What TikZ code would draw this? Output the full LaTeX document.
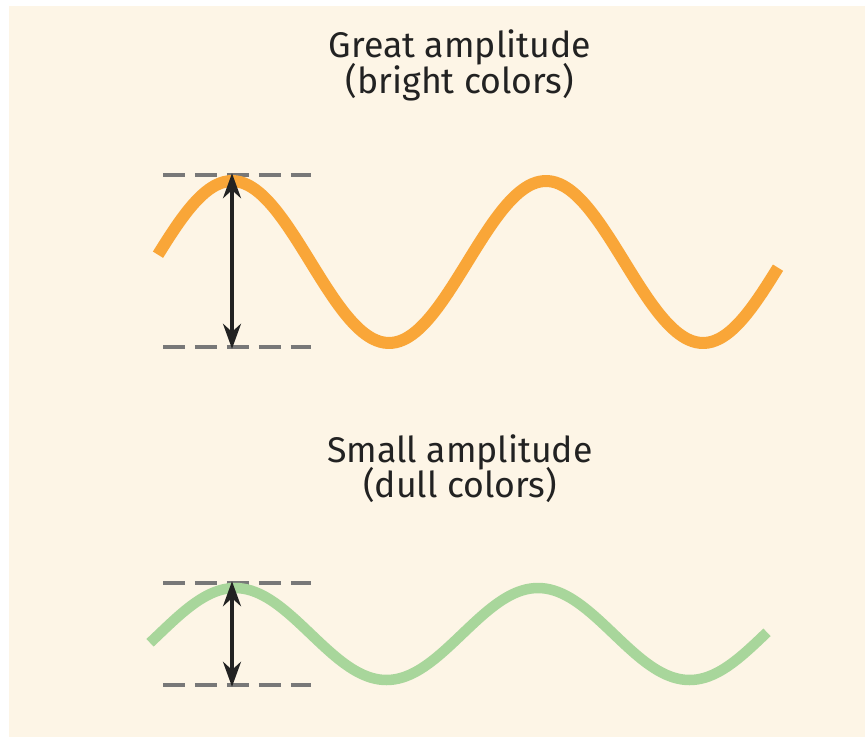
\documentclass[tikz,border=0pt]{standalone}
\usepackage{fontspec}
\setmainfont{Fira Sans}
\usepackage{tikz}
\usetikzlibrary{arrows.meta}

\definecolor{paper}{RGB}{253,245,230}
\definecolor{waveorange}{RGB}{249,166,56}
\definecolor{wavegreen}{RGB}{168,214,155}
\definecolor{guidegray}{RGB}{120,120,120}
\definecolor{inkdark}{RGB}{34,34,34}

\begin{document}
\begin{tikzpicture}[x=0.02cm, y=-0.02cm,
    caption/.style={anchor=base, font=\fontsize{20.3}{22}\selectfont, text=inkdark},
    guide/.style={guidegray, line width=0.08cm, dash pattern=on 0.44cm off 0.2cm},
    span/.style={{Stealth[length=0.5cm, width=0.36cm]}-{Stealth[length=0.5cm, width=0.36cm]},
                 inkdark, line width=0.07cm, shorten <=-1pt, shorten >=-1pt}]
  % Frame
  \useasboundingbox (0,0) rectangle (865,737);
  \fill[paper] (9,6) rectangle (865,737);

  % === Great amplitude ===
  \node[caption] (greattitle) at (460,57) {Great amplitude};
  \node[caption] (brighttitle) at (460,93) {(bright colors)};

  \draw[guide] (163,175) -- (311,175);
  \draw[guide] (163,347) -- (311,347);
  \draw[waveorange, line width=0.24cm]
       plot[domain=-74:546, samples=160, smooth] ({\x+232}, {262-81*cos(\x*1.14650)});
  \coordinate (bigtop) at (232,175);
  \coordinate (bigbottom) at (232,347);
  \draw[span] (bigtop) -- (bigbottom);

  % === Small amplitude ===
  \node[caption] (smalltitle) at (460,462) {Small amplitude};
  \node[caption] (dulltitle) at (460,497) {(dull colors)};

  \draw[guide] (163,583) -- (311,583);
  \draw[guide] (163,685) -- (311,685);
  \draw[wavegreen, line width=0.21cm]
       plot[domain=-85:532, samples=160, smooth] ({\x+235}, {634-46*cos(\x*1.18812)});
  \coordinate (smalltop) at (232,583);
  \coordinate (smallbottom) at (232,685);
  \draw[span] (smalltop) -- (smallbottom);
\end{tikzpicture}
\end{document}
